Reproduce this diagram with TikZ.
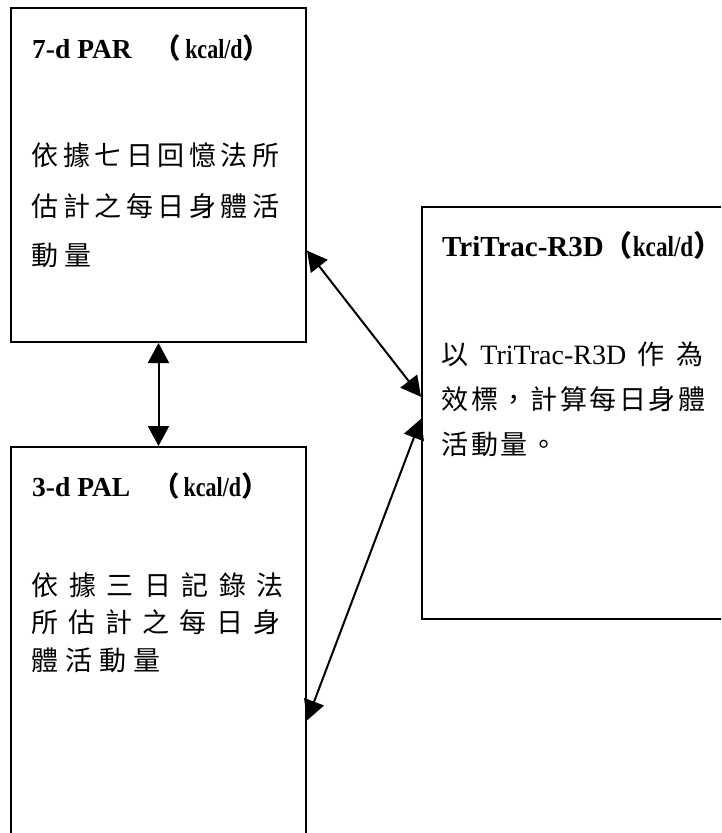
\documentclass[tikz,border=0pt]{standalone}
\usepackage{graphicx}
\usepackage{fontspec}
\setmainfont{Liberation Serif}
\newfontfamily\cjk{Noto Sans CJK TC}
\usetikzlibrary{arrows.meta, calc, positioning}
\tikzstyle{box}=[draw,rectangle,line width=2pt,anchor=north west,inner sep=0pt]
\tikzstyle{head}=[font=\fontsize{27.5}{27.5}\selectfont\bfseries,anchor=base west,inner sep=0pt]
\tikzstyle{body}=[font=\fontsize{27}{27}\selectfont\cjk,anchor=base west,inner sep=0pt]
\tikzstyle{link}=[line width=2pt,{Triangle[length=20pt,width=21pt]}-{Triangle[length=20pt,width=21pt]}]

% one character every #1
\makeatletter
\newcommand\spreadline[2]{\@tfor\onechar:=#2\do{\makebox[#1][l]{\onechar}}}
\makeatother
% unit in full-width brackets
\newcommand\kcal[1]{{\cjk（}\hspace{#1}\scalebox{0.8}[1]{kcal/d}\makebox[0.45em][l]{\cjk）}}

\begin{document}
\begin{tikzpicture}[x=1pt,y=-1pt]
  \useasboundingbox (0,0) rectangle (721,833);
  \clip (0,0) rectangle (721,833);
  % boxes
  \node[box, minimum width=295pt, minimum height=334pt] (par) at (10,7) {};
  \node[box, minimum width=295pt, minimum height=390pt] (pal) at (10,446) {};
  \node[box, minimum width=320pt, minimum height=412pt] (tri) at (421,206) {};
  % 7-d PAR
  \node[head] (partitle) at (32,58) {7-d PAR\hspace{22pt}\kcal{4pt}};
  \node[body] (par1) at (31.5,165.3) {\spreadline{31.5pt}{依據七日回憶法所}};
  \node[body] (par2) at (31.5,216.3) {\spreadline{31.5pt}{估計之每日身體活}};
  \node[body] (par3) at (31.5,265.3) {\spreadline{33pt}{動量}};
  % 3-d PAL
  \node[head] (paltitle) at (32,496) {3-d PAL\hspace{22pt}\kcal{4pt}};
  \node[body] (pal1) at (31.5,595.3) {\spreadline{37.5pt}{依據三日記錄法}};
  \node[body] (pal2) at (31.5,632.3) {\spreadline{37pt}{所估計之每日身}};
  \node[body] (pal3) at (31.5,670.3) {\spreadline{34pt}{體活動量}};
  % TriTrac-R3D
  \node[head, font=\fontsize{29}{29}\selectfont\bfseries] (tritle) at (442,256) {TriTrac-R3D\kcal{0pt}};
  \node[body] (tri1) at (441.5,364.3) {\hbox to 262pt{以\hfil{\fontsize{28}{28}\selectfont\rmfamily TriTrac-R3D}\hfil 作\hfil 為}};
  \node[body] (tri2) at (441.5,409.3) {\spreadline{29.6pt}{效標，計算每日身體}};
  \node[body] (tri3) at (441.5,454.3) {\spreadline{29.6pt}{活動量。}};
  % connectors
  \draw[link] (par.south) -- (pal.north);
  \draw[link] ($(par.north east)!0.725!(par.south east)$) -- ($(tri.north west)!0.461!(tri.south west)$);
  \draw[link] ($(pal.north east)!0.70!(pal.south east)$) -- ($(tri.north west)!0.514!(tri.south west)$);
\end{tikzpicture}
\end{document}
